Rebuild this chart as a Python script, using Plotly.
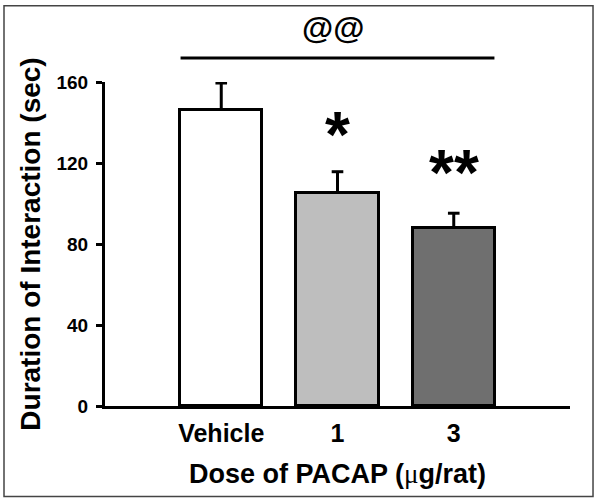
import plotly.graph_objects as go

categories = ["Vehicle", "1", "3"]
means = [146, 105, 88]
sems = [13.5, 10.7, 7.2]
bar_colors = ["#ffffff", "#bebebe", "#6f6f6f"]
sig_labels = ["", "*", "**"]
sig_y = [None, 134, 115]
y_ticks = [0, 40, 80, 120, 160]

FONT = "Liberation Sans, Arial, sans-serif"
CAP = 0.05

fig = go.Figure()
fig.add_trace(go.Bar(
    x=[0, 1, 2], y=means, width=0.707,
    marker=dict(color=bar_colors, line=dict(color="black", width=3)),
    showlegend=False,
))

# error bars (upper only), drawn beneath the bars so the base is hidden by the outline
for i, (m, s) in enumerate(zip(means, sems)):
    fig.add_shape(type="line", xref="x", yref="y", x0=i, x1=i, y0=m, y1=m + s,
                  line=dict(color="black", width=3), layer="below")
    fig.add_shape(type="line", xref="x", yref="y", x0=i - CAP, x1=i + CAP, y0=m + s, y1=m + s,
                  line=dict(color="black", width=3), layer="below")

for i, (lab, yy) in enumerate(zip(sig_labels, sig_y)):
    if lab:
        fig.add_annotation(x=i, y=yy, xref="x", yref="y", text="<b>" + lab + "</b>",
                           showarrow=False, font=dict(family=FONT, size=64, color="black"),
                           yanchor="middle")

# bracket line and @@
fig.add_shape(type="line", xref="x", yref="paper", x0=-0.35, x1=2.35, y0=1.074, y1=1.074,
              line=dict(color="black", width=3))
fig.add_annotation(x=0.96, y=1.167, xref="x", yref="paper", text="<b>@@</b>", showarrow=False,
                   font=dict(family=FONT, size=32, color="black"), yanchor="middle")

# frame border
fig.add_shape(type="rect", xref="paper", yref="paper", x0=-0.2172, x1=1.0495, y0=-0.279, y1=1.2357,
              line=dict(color="#444444", width=1.5))

fig.update_layout(
    width=600, height=502,
    margin=dict(l=105, r=30, t=82, b=96),
    plot_bgcolor="white", paper_bgcolor="white",
    font=dict(family=FONT, color="black"),
    bargap=0,
)
fig.update_xaxes(
    range=[-1, 3], tickvals=[0, 1, 2], ticktext=["<b>" + c + "</b>" for c in categories],
    tickfont=dict(size=25, family=FONT), ticks="", showline=True, linecolor="black", linewidth=3,
    showgrid=False, zeroline=False, ticklabelstandoff=3, automargin=False,
    title=dict(text="<b>Dose of PACAP (</b><span style='font-family:Liberation Serif'>μ</span><b>g/rat)</b>",
               font=dict(size=27, family=FONT), standoff=19),
)
fig.update_yaxes(
    range=[0, 160], tickvals=y_ticks, ticktext=["<b>%d</b>" % v for v in y_ticks],
    tickfont=dict(size=19, family=FONT), ticks="outside", ticklen=6, tickwidth=3, tickcolor="black",
    showline=True, linecolor="black", linewidth=3, showgrid=False, zeroline=False,
    ticklabelstandoff=4, automargin=False,
    title=dict(text="<b>Duration of Interaction (sec)</b>", font=dict(size=28, family=FONT), standoff=8),
)

fig.write_html("out.html", config={"displayModeBar": False},
               post_script="document.body.style.margin='0px';")
